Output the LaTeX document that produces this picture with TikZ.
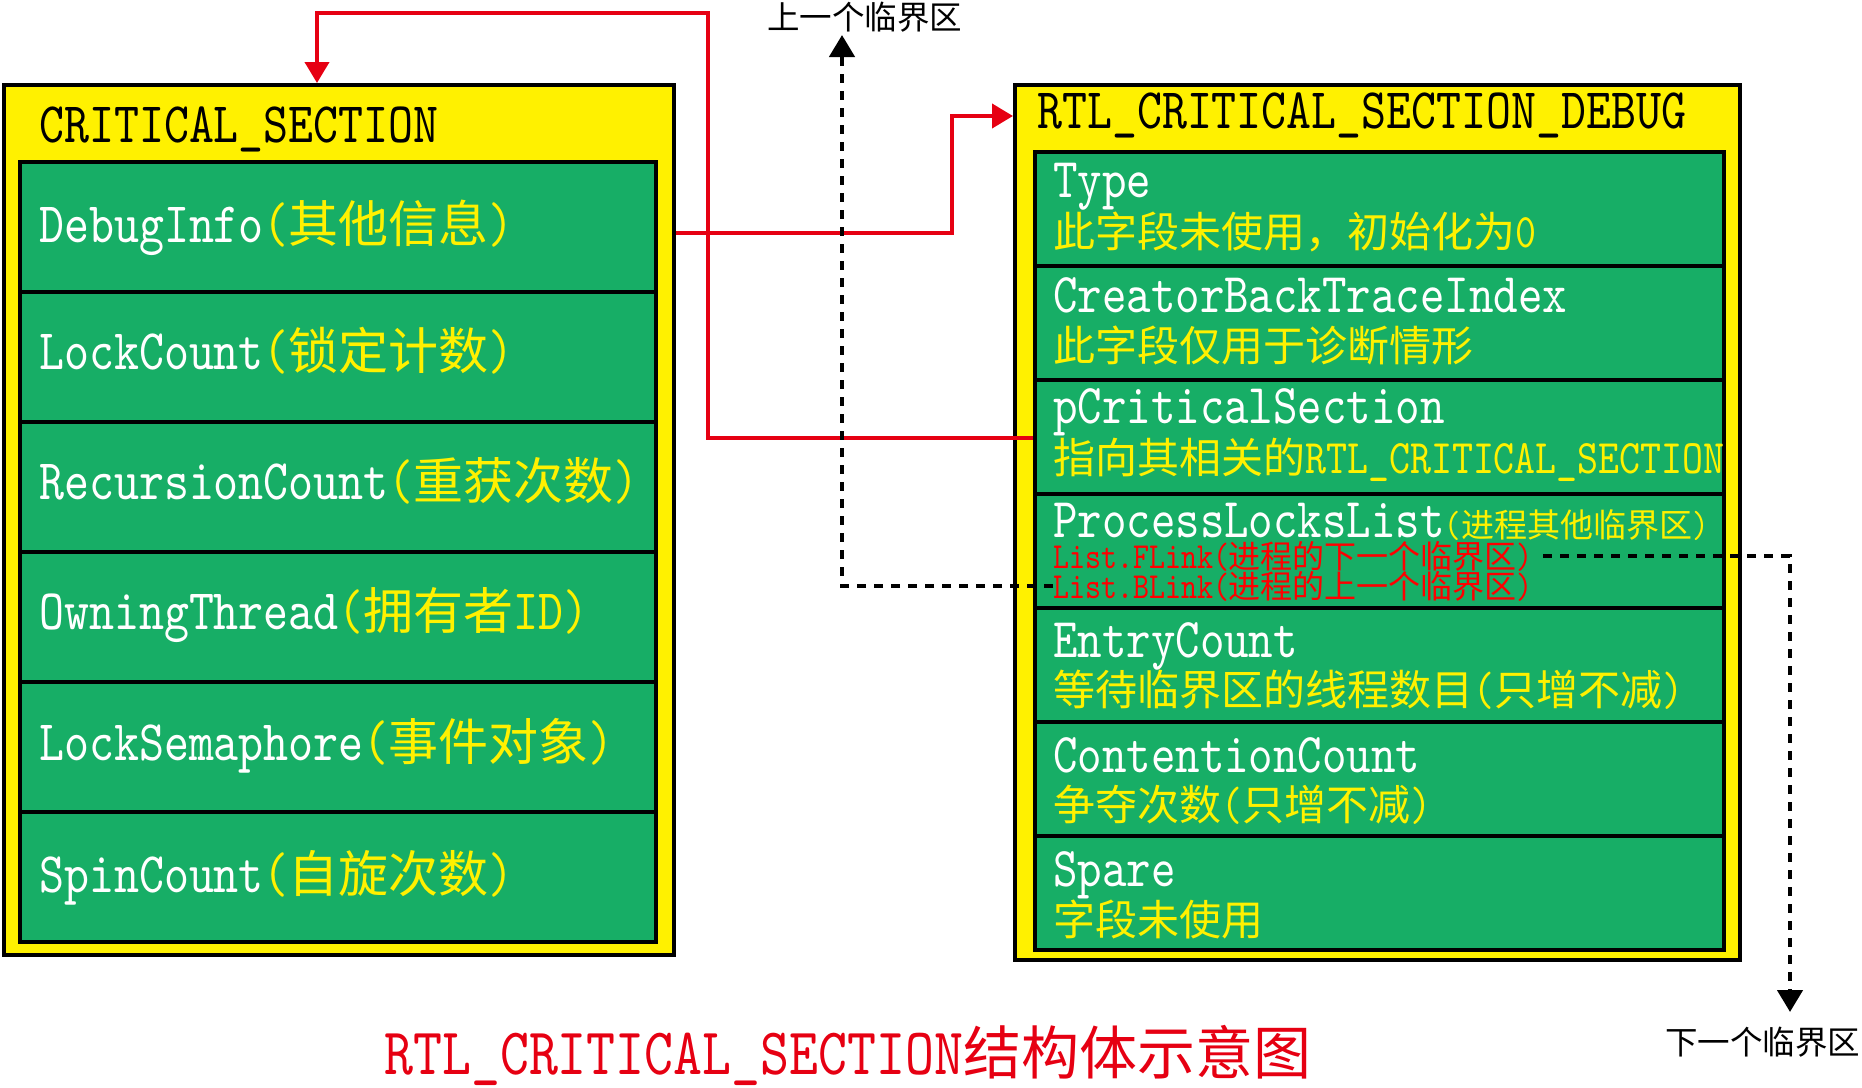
\documentclass[tikz,border=0pt]{standalone}
\usepackage{fontspec}
\setmainfont{lmmono10-regular.otf}[Scale=1.146,FakeStretch=0.83]
\newfontfamily\cjk{Noto Sans CJK SC}
\newcommand\zh[1]{{\cjk #1}}
\usetikzlibrary{arrows.meta}
\definecolor{ylw}{RGB}{255,241,0}
\definecolor{grn}{RGB}{23,174,102}
\definecolor{lred}{RGB}{230,0,18}
\begin{document}
\begin{tikzpicture}[x=1pt,y=-1pt,
  outerbox/.style={draw=black, fill=ylw, line width=4pt, inner sep=0pt, anchor=north west},
  rowbox/.style={draw=black, fill=grn, line width=4pt, inner sep=0pt, anchor=north west},
  txt/.style={anchor=base west, inner sep=0pt},
  fsz/.style={font=\fontsize{#1}{#1}\selectfont},
  redarrow/.style={draw=lred, line width=4pt, -{Triangle[length=21pt,width=24pt]}},
  linkarrow/.style={draw=black, line width=4.5pt, dash pattern=on 9pt off 8pt, -{Triangle[length=22pt,width=25pt]}},
]
\useasboundingbox (0,0) rectangle (1862,1087);

% ---------- left box: CRITICAL_SECTION ----------
\node[outerbox, minimum width=670pt, minimum height=870pt] (cs) at (2,83) {};
\foreach \k in {0,...,5}{
  \node[rowbox, minimum width=636pt, minimum height=130pt] (l\k) at (18,160+130*\k) {};
}
\node[txt, fsz=50, text=black] (cst) at (39,142) {CRITICAL\_SECTION};
\node[txt, fsz=50, text=white] (lt0) at (39,242) {DebugInfo{\color{ylw}(\zh{其他信息})}};
\node[txt, fsz=50, text=white] (lt1) at (39,369) {LockCount{\color{ylw}(\zh{锁定计数})}};
\node[txt, fsz=50, text=white] (lt2) at (39,499) {RecursionCount{\color{ylw}(\zh{重获次数})}};
\node[txt, fsz=50, text=white] (lt3) at (39,629) {OwningThread{\color{ylw}(\zh{拥有者}ID)}};
\node[txt, fsz=50, text=white] (lt4) at (39,760) {LockSemaphore{\color{ylw}(\zh{事件对象})}};
\node[txt, fsz=50, text=white] (lt5) at (39,892) {SpinCount{\color{ylw}(\zh{自旋次数})}};

% ---------- right box: RTL_CRITICAL_SECTION_DEBUG ----------
\node[outerbox, minimum width=725pt, minimum height=875pt] (rd) at (1013,83) {};
\foreach \k in {1,...,7}{
  \node[rowbox, minimum width=689pt, minimum height=114pt] (d\k) at (1033,36+114*\k) {};
}
\node[txt, fsz=50, text=black] (rdt) at (1037,128) {RTL\_CRITICAL\_SECTION\_DEBUG};

\node[txt, fsz=49, text=white] (a1) at (1053,197) {Type};
\node[txt, fsz=42, text=ylw]   (b1) at (1053,247) {\zh{此字段未使用，初始化为}0};
\node[txt, fsz=49, text=white] (a2) at (1053,312) {CreatorBackTraceIndex};
\node[txt, fsz=42, text=ylw]   (b2) at (1053,361) {\zh{此字段仅用于诊断情形}};
\node[txt, fsz=49, text=white] (a3) at (1053,423) {pCriticalSection};
\node[txt, fsz=42, text=ylw]   (b3) at (1053,473) {\zh{指向其相关的}RTL\_CRITICAL\_SECTION};
\node[txt, fsz=49, text=white] (a4) at (1053,537) {ProcessLocksList{\color{ylw}\fontsize{33}{33}\selectfont(\zh{进程其他临界区})}};
\node[txt, fsz=32, text=red]   (fl) at (1053,568) {List.FLink(\zh{进程的下一个临界区})};
\node[txt, fsz=32, text=red]   (bl) at (1053,598) {List.BLink(\zh{进程的上一个临界区})};
\node[txt, fsz=49, text=white] (a5) at (1053,657) {EntryCount};
\node[txt, fsz=42, text=ylw]   (b5) at (1053,705) {\zh{等待临界区的线程数目}(\zh{只增不减})};
\node[txt, fsz=49, text=white] (a6) at (1053,772) {ContentionCount};
\node[txt, fsz=42, text=ylw]   (b6) at (1053,820) {\zh{争夺次数}(\zh{只增不减})};
\node[txt, fsz=49, text=white] (a7) at (1053,886) {Spare};
\node[txt, fsz=42, text=ylw]   (b7) at (1053,935) {\zh{字段未使用}};

% ---------- labels ----------
\node[txt, fsz=32.5, text=black] (prev) at (767,29) {\zh{上一个临界区}};
\node[txt, fsz=32.5, text=black] (next) at (1665,1054) {\zh{下一个临界区}};
\node[txt, fsz=58, text=lred] (ttl) at (384,1074) {RTL\_CRITICAL\_SECTION\zh{结构体示意图}};

% ---------- connectors ----------
\coordinate (ya) at (0,233);
\coordinate (yb) at (0,116);
\coordinate (yc) at (0,438);
\coordinate (xd) at (317,0);
\coordinate (ptop) at (842,35);
\coordinate (pbot) at (1790,1012);

\draw[redarrow] (cs.east |- ya) -- (952,233) |- (rd.west |- yb);
\draw[redarrow] (d3.west |- yc) -| (708,13) -| (cs.north -| xd);

\draw[linkarrow] (bl.west) -| (ptop);
\draw[linkarrow] ([xshift=10pt]fl.east) -| (pbot);
\end{tikzpicture}
\end{document}
